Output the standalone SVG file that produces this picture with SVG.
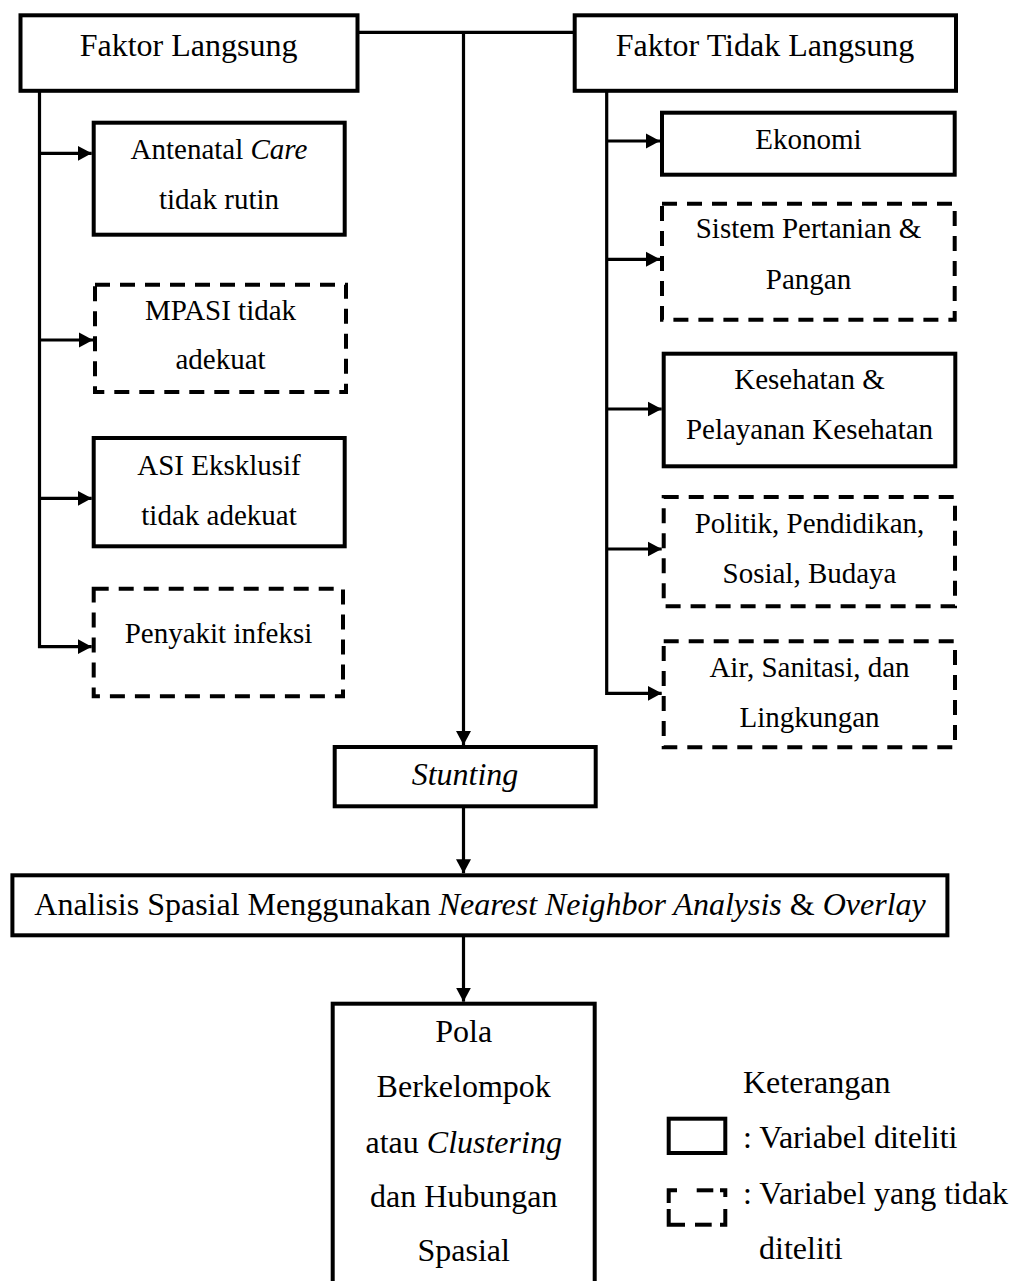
<svg xmlns="http://www.w3.org/2000/svg" width="1015" height="1281" viewBox="0 0 1015 1281">
  <defs>
    <marker id="arrow" markerUnits="userSpaceOnUse" markerWidth="14" markerHeight="16" refX="14" refY="8" orient="auto">
      <path d="M0,0.5 L14,8 L0,15.5 z" fill="#000"/>
    </marker>
  </defs>
  <style>
    .box{fill:#fff;stroke:#000;stroke-width:4}
    .dash{fill:#fff;stroke:#000;stroke-width:4;stroke-dasharray:15 10}
    .line{fill:none;stroke:#000;stroke-width:3.2}
    .arr{marker-end:url(#arrow)}
    text{font-family:"Liberation Serif","Times New Roman",serif;fill:#000;text-anchor:middle}
    .t{font-size:32px}
    .s{font-size:29px}
    .i{font-style:italic}
    .lg{text-anchor:start}
  </style>
  <rect width="1015" height="1281" fill="#fff"/>

  <!-- top level factors -->
  <g id="faktor-langsung">
    <rect class="box" x="20.5" y="15.3" width="337" height="75.5"/>
    <text class="t" x="188.5" y="56">Faktor Langsung</text>
  </g>
  <g id="faktor-tidak-langsung">
    <rect class="box" x="574.7" y="15.3" width="381.3" height="75.5"/>
    <text class="t" x="765" y="56">Faktor Tidak Langsung</text>
  </g>

  <!-- direct factors -->
  <g id="antenatal">
    <rect class="box" x="93.7" y="122.7" width="251" height="112"/>
    <text class="s" x="219" y="159">Antenatal <tspan class="i">Care</tspan></text>
    <text class="s" x="219" y="209">tidak rutin</text>
  </g>
  <g id="mpasi">
    <rect class="dash" x="95" y="284.7" width="251" height="107.3"/>
    <text class="s" x="220.5" y="320">MPASI tidak</text>
    <text class="s" x="220.5" y="369">adekuat</text>
  </g>
  <g id="asi">
    <rect class="box" x="93.7" y="438" width="251" height="108.3"/>
    <text class="s" x="219" y="475">ASI Eksklusif</text>
    <text class="s" x="219" y="525">tidak adekuat</text>
  </g>
  <g id="infeksi">
    <rect class="dash" x="93.7" y="588.7" width="249.3" height="107.6"/>
    <text class="s" x="218.5" y="643">Penyakit infeksi</text>
  </g>

  <!-- indirect factors -->
  <g id="ekonomi">
    <rect class="box" x="662" y="112.7" width="292.7" height="62"/>
    <text class="s" x="808.5" y="149">Ekonomi</text>
  </g>
  <g id="pertanian">
    <rect class="dash" x="662" y="203.7" width="292.7" height="116"/>
    <text class="s" x="808.5" y="238">Sistem Pertanian &amp;</text>
    <text class="s" x="808.5" y="289">Pangan</text>
  </g>
  <g id="kesehatan">
    <rect class="box" x="663.7" y="353.7" width="291.6" height="112.6"/>
    <text class="s" x="809.5" y="389">Kesehatan &amp;</text>
    <text class="s" x="809.5" y="439">Pelayanan Kesehatan</text>
  </g>
  <g id="politik">
    <rect class="dash" x="663.7" y="497" width="291.3" height="109.3"/>
    <text class="s" x="809.5" y="533">Politik, Pendidikan,</text>
    <text class="s" x="809.5" y="583">Sosial, Budaya</text>
  </g>
  <g id="lingkungan">
    <rect class="dash" x="663.7" y="641.3" width="291.3" height="106"/>
    <text class="s" x="809.5" y="677">Air, Sanitasi, dan</text>
    <text class="s" x="809.5" y="727">Lingkungan</text>
  </g>

  <!-- outcome chain -->
  <g id="stunting">
    <rect class="box" x="334.7" y="747" width="261" height="59.3"/>
    <text class="t i" x="465" y="785">Stunting</text>
  </g>
  <g id="analisis">
    <rect class="box" x="12.4" y="875.3" width="935" height="60"/>
    <text class="t" x="480" y="915">Analisis Spasial Menggunakan <tspan class="i">Nearest Neighbor Analysis</tspan> &amp; <tspan class="i">Overlay</tspan></text>
  </g>
  <g id="pola">
    <rect class="box" x="332.7" y="1003.7" width="262" height="300"/>
    <text class="t" x="463.7" y="1042">Pola</text>
    <text class="t" x="463.7" y="1097">Berkelompok</text>
    <text class="t" x="463.7" y="1153">atau <tspan class="i">Clustering</tspan></text>
    <text class="t" x="463.7" y="1207">dan Hubungan</text>
    <text class="t" x="463.7" y="1261">Spasial</text>
  </g>

  <!-- legend -->
  <g id="keterangan">
    <text class="t lg" x="743" y="1093">Keterangan</text>
    <rect class="box" x="668.7" y="1118.7" width="56.6" height="34.3"/>
    <text class="t lg" x="743" y="1148">: Variabel diteliti</text>
    <g fill="none" stroke="#000" stroke-width="4">
      <path d="M668.7,1203 V1190.3 H677"/>
      <path d="M696.7,1190.3 H713.3"/>
      <path d="M720,1190.3 H725.3 V1197"/>
      <path d="M668.7,1209 V1224.7 H685"/>
      <path d="M695,1224.7 H711.7"/>
      <path d="M720,1224.7 H725.3 V1209"/>
    </g>
    <text class="t lg" x="743" y="1204">: Variabel yang tidak</text>
    <text class="t lg" x="759" y="1259">diteliti</text>
  </g>

  <!-- connectors -->
  <g id="connectors" class="line">
    <path d="M357.5,32.3 H574.7"/>
    <path class="arr" d="M463.5,32.3 V745"/>
    <path class="arr" d="M463.5,808 V873.3"/>
    <path class="arr" d="M463.5,937 V1001.7"/>

    <path class="arr" d="M39.5,90 V646.7 H91.7"/>
    <path class="arr" d="M39.5,153.3 H91.7"/>
    <path class="arr" d="M39.5,340 H93"/>
    <path class="arr" d="M39.5,498.3 H91.7"/>

    <path class="arr" d="M606.7,90 V693.3 H661.7"/>
    <path class="arr" d="M606.7,141 H660"/>
    <path class="arr" d="M606.7,259.3 H660"/>
    <path class="arr" d="M606.7,409 H661.7"/>
    <path class="arr" d="M606.7,549 H661.7"/>
  </g>
</svg>
